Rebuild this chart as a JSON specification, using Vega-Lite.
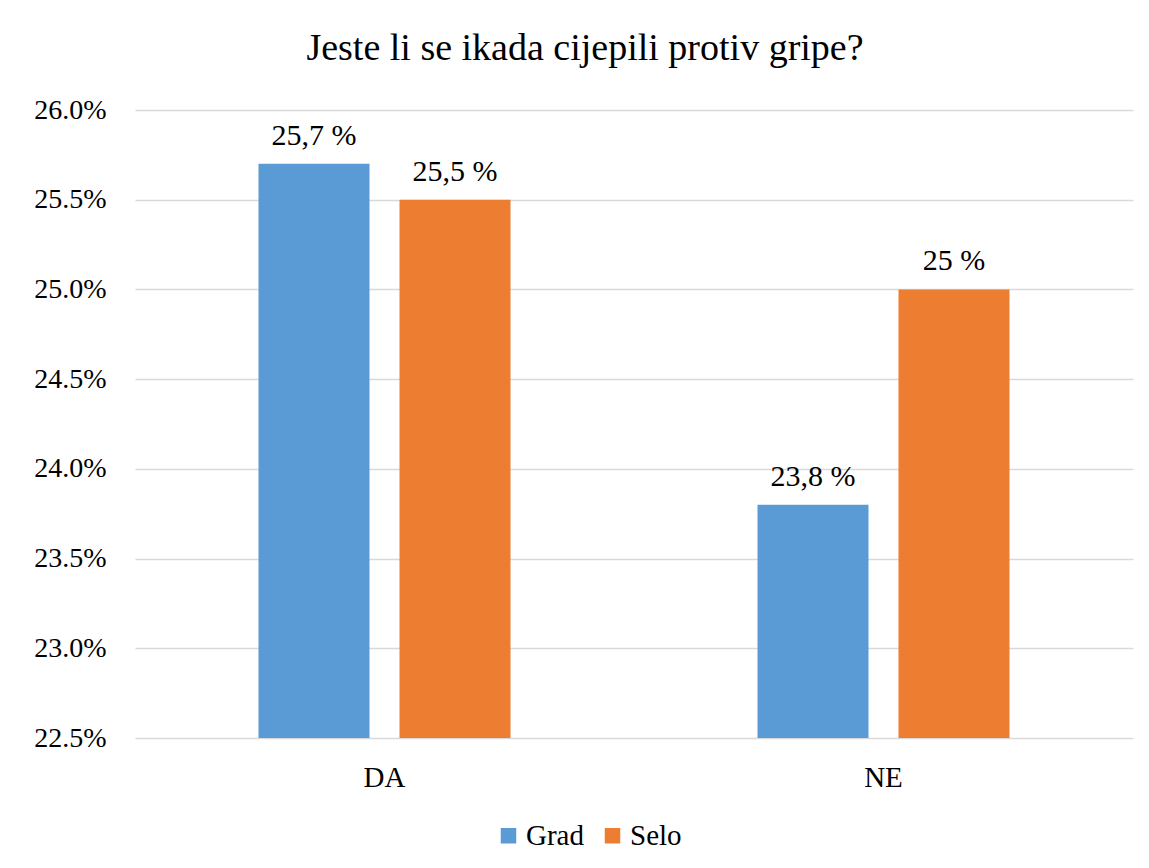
{
  "$schema": "https://vega.github.io/schema/vega-lite/v6.json",
  "autosize": "none",
  "width": 998,
  "height": 628,
  "padding": {"left": 135, "top": 110, "right": 16, "bottom": 130},
  "background": "white",
  "title": {
    "text": "Jeste li se ikada cijepili protiv gripe?",
    "font": "Liberation Serif, serif",
    "fontSize": 38,
    "fontWeight": "normal",
    "color": "#000000",
    "anchor": "middle",
    "dx": -49,
    "offset": 28
  },
  "data": {
    "values": [
      {"odgovor": "DA", "mjesto": "Grad", "vrijednost": 0.257, "oznaka": "25,7 %"},
      {"odgovor": "DA", "mjesto": "Selo", "vrijednost": 0.255, "oznaka": "25,5 %"},
      {"odgovor": "NE", "mjesto": "Grad", "vrijednost": 0.238, "oznaka": "23,8 %"},
      {"odgovor": "NE", "mjesto": "Selo", "vrijednost": 0.25, "oznaka": "25 %"}
    ]
  },
  "encoding": {
    "x": {
      "field": "odgovor",
      "type": "nominal",
      "scale": {"paddingInner": 0.495, "paddingOuter": 0.2475},
      "axis": {"title": null, "labelAngle": 0, "domain": false, "ticks": false, "grid": false, "labelPadding": 25, "labelFontSize": 29, "labelFont": "Liberation Serif, serif", "labelColor": "#000000"}
    },
    "xOffset": {
      "field": "mjesto",
      "type": "nominal",
      "scale": {"paddingInner": 0.2128, "paddingOuter": 0}
    },
    "y": {
      "field": "vrijednost",
      "type": "quantitative",
      "scale": {"domain": [0.225, 0.26], "zero": false, "nice": false},
      "axis": {"title": null, "format": ".1%", "values": [0.225, 0.23, 0.235, 0.24, 0.245, 0.25, 0.255, 0.26], "domain": false, "ticks": false, "labelPadding": 29, "labelFontSize": 28, "labelFont": "Liberation Serif, serif", "labelColor": "#000000", "gridColor": "#D9D9D9", "gridWidth": 1.5}
    }
  },
  "layer": [
    {
      "mark": {"type": "bar", "clip": true},
      "encoding": {
        "color": {
          "field": "mjesto",
          "type": "nominal",
          "scale": {"domain": ["Grad", "Selo"], "range": ["#5B9BD5", "#ED7D31"]},
          "legend": {
            "title": null,
            "orient": "none",
            "legendX": 359,
            "legendY": 711,
            "direction": "horizontal",
            "symbolType": "square",
            "symbolSize": 240,
            "symbolStrokeWidth": 0,
            "labelFontSize": 29,
            "labelFont": "Liberation Serif, serif",
            "labelColor": "#000000",
            "columnPadding": 14,
            "labelOffset": 3
          }
        }
      }
    },
    {
      "mark": {"type": "text", "baseline": "bottom", "dy": -13, "font": "Liberation Serif, serif", "fontSize": 30, "color": "#000000"},
      "encoding": {
        "text": {"field": "oznaka", "type": "nominal"}
      }
    }
  ],
  "config": {
    "font": "Liberation Serif, serif",
    "view": {"stroke": null}
  }
}
